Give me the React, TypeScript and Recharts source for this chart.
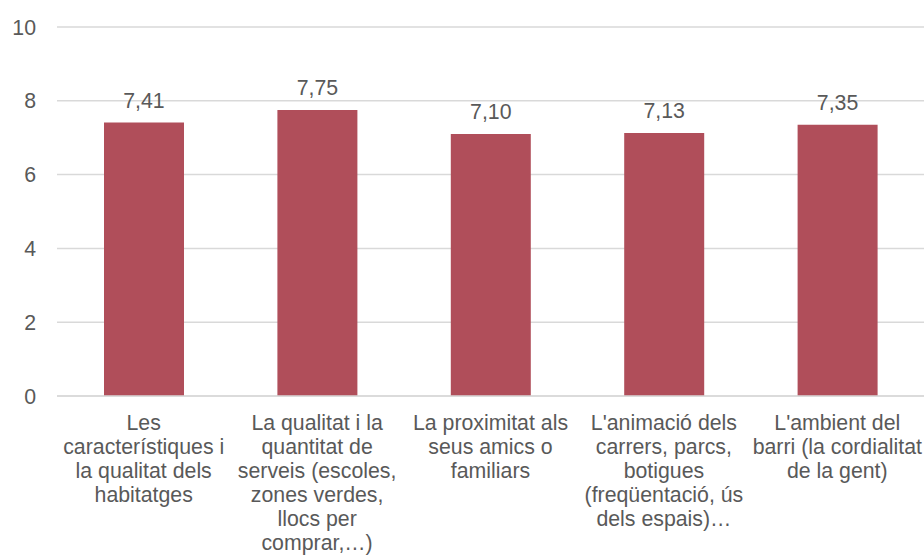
import React from 'react';
import { BarChart, Bar, XAxis, YAxis, CartesianGrid, LabelList } from 'recharts';

const categories = [
  ['Les', 'característiques i', 'la qualitat dels', 'habitatges'],
  ['La qualitat i la', 'quantitat de', 'serveis (escoles,', 'zones verdes,', 'llocs per', 'comprar,…)'],
  ['La proximitat als', 'seus amics o', 'familiars'],
  ["L'animació dels", 'carrers, parcs,', 'botigues', '(freqüentació, ús', 'dels espais)…'],
  ["L'ambient del", 'barri (la cordialitat', 'de la gent)'],
];
const values = [7.41, 7.75, 7.1, 7.13, 7.35];
const yTicks = [0, 2, 4, 6, 8, 10];

const data = categories.map((lines, i) => ({ name: String(i), value: values[i] }));

const FONT = '"Liberation Sans", Arial, sans-serif';
const TEXT = '#595959';

function CategoryTick(props: any) {
  const { x, y, payload } = props;
  const lines = categories[Number(payload.value)];
  return (
    <text x={x} y={y + 34} textAnchor="middle" fill={TEXT} fontSize={21.3} fontFamily={FONT}>
      {lines.map((l, i) => (
        <tspan key={i} x={x} dy={i === 0 ? 0 : 24}>{l}</tspan>
      ))}
    </text>
  );
}

export default function App() {
  return (
    <div style={{ position: 'absolute', left: 0, top: 0, background: '#fff' }}>
      <BarChart width={924} height={555} data={data} margin={{ top: 27, right: 0, left: 0, bottom: 129 }}>
        <CartesianGrid vertical={false} stroke="#d9d9d9" strokeWidth={1.5} />
        <XAxis
          dataKey="name"
          height={30}
          interval={0}
          tickLine={false}
          tickSize={0}
          tickMargin={0}
          axisLine={{ stroke: '#d9d9d9', strokeWidth: 1.5 }}
          tick={<CategoryTick />}
        />
        <YAxis
          width={57}
          domain={[0, 10]}
          ticks={yTicks}
          axisLine={false}
          tickLine={false}
          tickSize={0}
          tickMargin={21}
          tick={{ fill: TEXT, fontSize: 21.3, fontFamily: FONT }}
        />
        <Bar dataKey="value" fill="#b04e5a" barSize={80} isAnimationActive={false}>
          <LabelList
            dataKey="value"
            position="top"
            offset={15}
            fill={TEXT}
            fontSize={21.3}
            fontFamily={FONT}
            formatter={(v: any) => Number(v).toFixed(2).replace('.', ',')}
          />
        </Bar>
      </BarChart>
    </div>
  );
}
